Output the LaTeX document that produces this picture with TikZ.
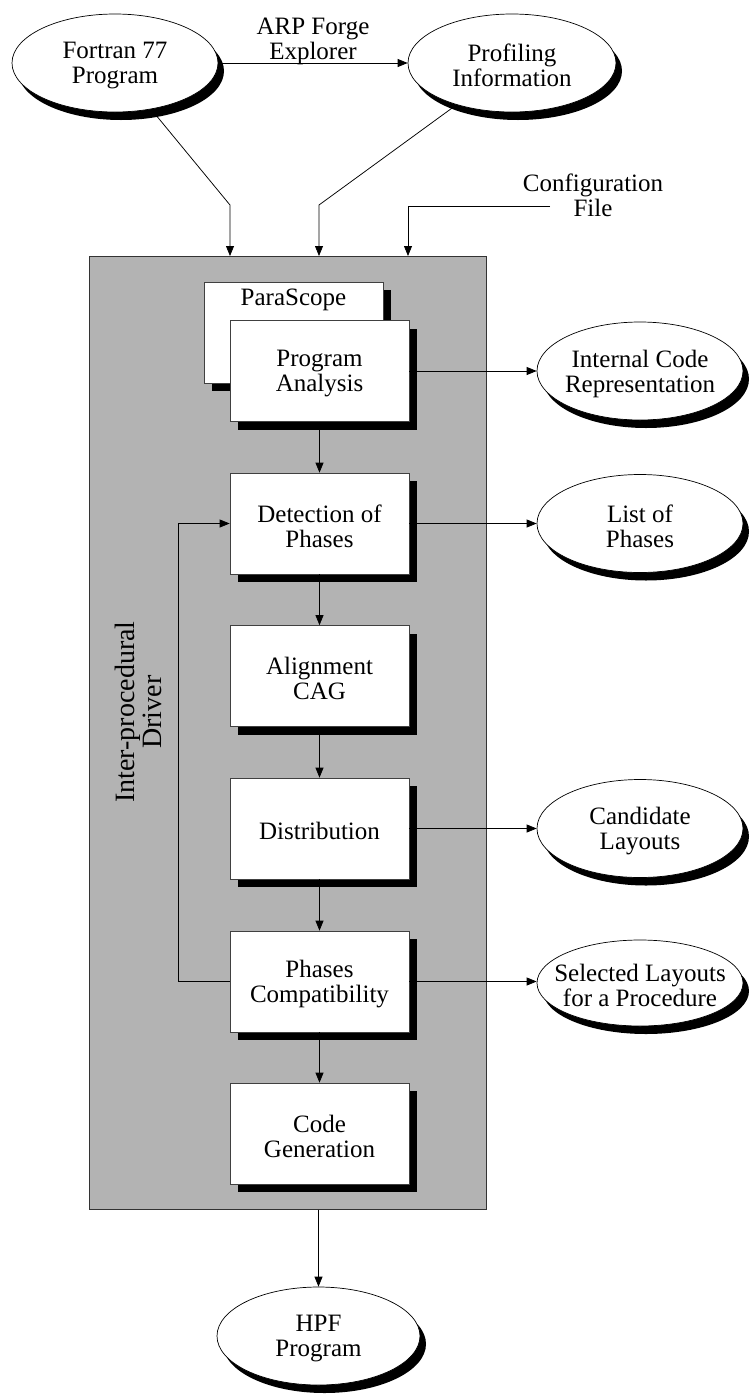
\documentclass[tikz,border=0pt]{standalone}
\usepackage{fontspec}
\setmainfont{Liberation Serif}
\usetikzlibrary{shapes.geometric,shadows,arrows.meta}
\definecolor{drivergray}{HTML}{B3B3B3}
\begin{document}
\begin{tikzpicture}[x=1pt,y=-1pt,
  font=\fontsize{25}{25}\selectfont,
  every node/.style={align=center,inner sep=0pt},
  blackshadow/.style={drop shadow={shadow xshift=#1,shadow yshift=-8pt,fill=black,opacity=1}},
  caption/.style={label={[yshift=-2.5pt]center:{#1}}},
  datafile/.style={ellipse,draw=black,line width=0.7pt,fill=white,
    minimum width=206pt,minimum height=98pt,blackshadow=6pt,caption={#1}},
  stepbox/.style={rectangle,draw=black!75,line width=0.7pt,fill=white,
    minimum width=179pt,minimum height=101pt,blackshadow=8pt,caption={#1}},
  stepbox/.default={},
  flow/.style={line width=0.75pt,-{Triangle[length=10pt,width=8pt]}}]
\useasboundingbox (0,0) rectangle (751,1395);

% inputs
\node[datafile={Fortran 77\\Program}] (fortran) at (115,63) {};
\node[datafile={Profiling\\Information},minimum width=208pt] (profiling) at (512,63) {};
\node (arp) at (313,41) {ARP Forge\\Explorer};
\node (config) at (593,195) {Configuration\\File};

% inter-procedural driver
\node[rectangle,draw=black!80,line width=0.7pt,fill=drivergray,anchor=north west,
  minimum width=397pt,minimum height=953pt] (driver) at (89,256) {};
\node[rotate=90,font=\fontsize{28}{27}\selectfont] (drivername) at (138,712)
  {Inter-procedural\\Driver};

% phases of the driver
\node[stepbox] (parascope) at (293.5,332.5) {};
\node (parascopename) at (293.5,300) {ParaScope};
\node[stepbox={Program\\Analysis}] (analysis) at (319.5,371) {};
\node[stepbox={Detection of\\Phases}] (detect) at (319.5,523.5) {};
\node[stepbox={Alignment\\CAG}] (align) at (319.5,676) {};
\node[stepbox={Distribution}] (distrib) at (319.5,828.5) {};
\node[stepbox={Phases\\Compatibility}] (compat) at (319.5,981.5) {};
\node[stepbox={Code\\Generation}] (codegen) at (319.5,1133.5) {};

% outputs
\node[datafile={Internal Code\\Representation}] (icr) at (640,371) {};
\node[datafile={List of\\Phases}] (phaselist) at (640,523.5) {};
\node[datafile={Candidate\\Layouts}] (candidates) at (640,828.5) {};
\node[datafile={Selected Layouts\\for a Procedure},minimum height=86pt] (selected) at (640,983) {};
\node[datafile={HPF\\Program},minimum width=203pt] (hpf) at (318.5,1336) {};

% connectors into the driver
\coordinate (fbend) at (230,205);
\coordinate (pbend) at (319,205);
\coordinate (cstart) at (550,206);
\coordinate (cbend) at (408,206);
\draw[flow] (fortran.east) -- (profiling.west);
\draw[flow] (fortran.-52) -- (fbend) -- (fbend |- driver.north);
\draw[flow] (profiling.-143) -- (pbend) -- (pbend |- driver.north);
\draw[flow] (cstart) -- (cbend) -- (cbend |- driver.north);

% flow through the phases
\draw[flow] (analysis.south) -- (detect.north);
\draw[flow] (detect.south) -- (align.north);
\draw[flow] (align.south) -- (distrib.north);
\draw[flow] (distrib.south) -- (compat.north);
\draw[flow] (compat.south) -- (codegen.north);
\draw[flow] (compat.west) -- ++(-51,0) |- (detect.west);

% results
\draw[flow] (analysis.east) -- (icr.west);
\draw[flow] (detect.east) -- (phaselist.west);
\draw[flow] (distrib.east) -- (candidates.west);
\draw[flow] (compat.east) -- (compat.east -| selected.west);
\draw[flow] (hpf.north |- driver.south) -- (hpf.north);
\end{tikzpicture}
\end{document}
